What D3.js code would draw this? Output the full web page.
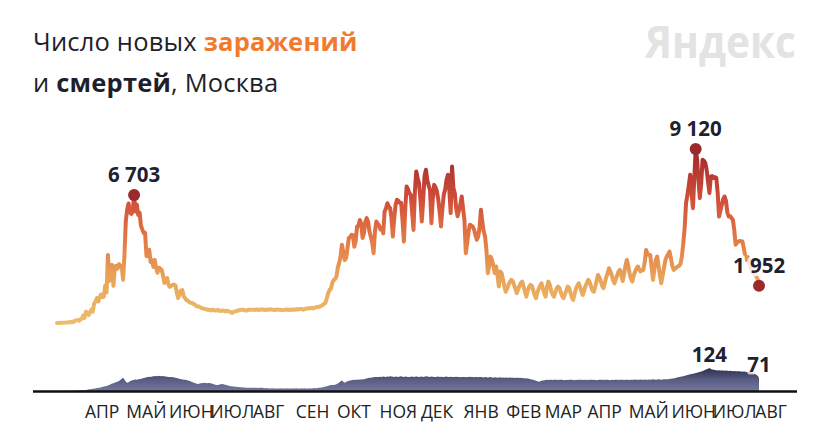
<!DOCTYPE html>
<html><head><meta charset="utf-8">
<script src="https://cdn.jsdelivr.net/npm/d3@7"></script>
<style>
html,body{margin:0;padding:0;background:#fff;}
svg{display:block;font-family:"Open Sans",sans-serif;}
</style></head>
<body>
<svg id="chart" width="828" height="440"></svg>
<script>
// ---------- data ----------
const startDate = new Date(2020, 2, 12); // first day of the series
const endDate = new Date(2021, 7, 4);

// daily new cases, Moscow (from 12 Mar 2020)
const cases = [
  // Mar 2020 (12–31)
  5,7,6,10,12,10,20,20,33,54,34,71,54,120,136,157,114,197,212,387,
  // Apr
  267,595,536,416,547,697,591,1030,1124,1306,1124,1355,1489,1355,1370,1959,1600,3570,2200,2800,3050,1950,2950,3000,2850,3080,2950,3000,2260,3560,
  // May
  5358,5948,6263,5795,5714,5858,6703,5846,6200,5667,5780,5100,4890,4712,4730,3505,3500,3840,3200,3300,2940,3300,2900,2630,2900,2850,2790,2500,2100,2200,2360,
  // Jun
  2000,1890,1950,2000,2010,1980,1600,1310,1500,1700,1730,1400,1310,1200,1180,1100,1060,1050,1000,980,900,870,860,820,780,760,740,730,700,690,
  // Jul
  680,660,700,673,660,650,690,640,620,650,660,610,630,640,600,580,530,570,600,620,640,660,680,690,700,670,650,660,690,700,690,
  // Aug
  690,700,680,710,690,680,700,720,690,680,700,690,710,720,700,690,680,700,710,690,700,680,670,690,700,710,690,680,700,710,700,
  // Sep
  700,720,710,730,740,720,700,730,760,750,780,770,800,760,790,820,850,830,870,900,940,1000,1050,1300,1560,1730,1800,2100,2260,2300,
  // Oct
  2430,2900,3150,3500,4100,3700,3300,3400,3900,4450,4500,4620,4600,4000,4300,5060,5100,5400,5200,4460,4700,5300,5500,5300,4800,4500,4200,3660,4800,5320,5200,
  // Nov
  5100,4900,4970,4700,5840,6000,6280,6100,6020,5500,4530,5500,6200,6460,6400,6300,6300,5400,4270,6000,7160,7000,6800,6720,5800,4880,6900,7940,7600,7330,
  // Dec
  6500,5320,6400,7680,8030,7500,7200,6980,5230,6500,7240,7100,6900,6460,5800,5060,6000,6720,7000,7500,7770,7000,5760,8203,7070,6800,6020,5600,5900,6200,6630,
  // Jan 2021
  6000,5400,3660,4200,4800,5150,5100,5060,4900,4600,4360,4530,5000,5930,5300,4800,4530,3800,2610,3000,3480,3300,3000,2620,2960,2500,1910,2700,2610,2300,1910,
  // Feb
  1640,1800,2000,2150,2260,2200,2000,1800,1560,1750,1950,2100,2170,1900,1640,1380,1700,1900,2000,1950,1700,1470,1300,1600,1800,1950,2080,1800,
  // Mar
  1560,1380,1900,2170,2000,1700,1500,1380,1600,1800,1910,1850,1600,1400,1300,1500,1700,1910,1850,1600,1350,1210,1500,1800,1950,2080,1900,1650,1470,1700,1950,
  // Apr
  2100,2260,2150,1900,1700,1640,1900,2200,2520,2400,2200,1950,1820,2100,2400,2600,2870,2700,2500,2250,2080,2300,2500,2700,2780,2500,2200,2600,3000,3300,
  // May
  3000,2600,2300,2170,2500,2700,2850,2960,2800,2700,2780,2780,3200,3830,3600,3570,3570,2900,2260,2800,3300,3480,3000,2500,2080,2500,2900,3300,3480,3600,3740,
  // Jun
  3400,3000,2780,2850,2900,2960,3000,3100,3500,4180,5000,6280,6700,7200,7770,6800,6020,7600,9120,8600,7500,6550,7300,8560,8500,8380,8000,7400,6810,7680,
  // Jul
  7700,7600,7650,7600,6800,5580,5900,6200,6500,6630,6400,5800,5580,5600,5500,5410,4900,4100,4200,4270,4300,4280,4270,3900,3500,3300,3450,3200,2900,2700,2600,
  // Aug
  2550,2450,2300,1952
];

// daily deaths, Moscow (same days)
const deaths = [
  0,0,0,0,0,1,1,0,1,1,1,1,2,2,3,3,4,4,6,6,
  5,6,7,9,10,11,12,13,14,16,17,18,20,22,24,25,27,30,33,36,40,42,45,48,50,54,59,66,72,62,
  50,45,47,52,56,58,60,62,61,63,64,66,68,70,72,74,76,77,75,78,80,79,81,80,82,80,81,79,80,78,77,
  76,75,74,75,73,72,70,68,66,64,63,61,60,59,57,55,52,49,46,43,40,38,39,41,43,42,44,43,42,43,
  43,41,39,36,34,32,33,35,37,38,36,34,32,30,28,26,25,24,23,23,22,21,20,20,19,19,18,18,18,17,18,
  18,17,18,17,16,17,18,17,16,15,16,15,14,15,14,15,14,13,14,13,14,15,14,13,14,15,14,13,14,14,15,
  14,15,14,13,14,15,14,15,14,13,14,15,14,15,16,15,16,17,18,19,20,22,24,26,28,30,32,33,32,34,
  36,40,46,52,56,50,45,48,52,55,57,58,60,59,61,60,62,61,63,62,64,66,68,70,71,72,73,74,75,76,75,
  76,77,76,78,77,76,78,77,79,78,77,76,78,77,76,78,79,77,76,78,77,76,75,77,78,76,77,78,77,76,
  77,78,76,77,79,78,77,76,78,77,76,75,77,78,76,77,75,76,77,78,76,75,77,76,75,76,77,75,76,74,75,
  76,75,74,76,75,77,76,75,74,76,75,74,76,75,74,73,75,74,73,74,75,73,72,74,73,72,73,74,72,73,72,
  73,72,71,73,72,71,72,70,71,72,70,71,69,70,68,69,67,66,64,62,60,58,55,52,50,52,55,57,
  58,59,60,59,60,61,59,60,61,60,59,60,61,60,59,58,60,59,60,61,60,59,58,60,59,60,61,60,59,60,59,
  60,59,60,61,60,59,60,58,59,60,61,60,59,60,61,60,59,58,60,59,60,61,60,59,60,61,60,59,60,61,
  60,59,60,61,60,62,61,60,61,62,61,60,62,61,60,62,61,62,63,62,61,62,63,62,61,62,63,64,63,64,65,
  66,67,68,70,72,74,75,77,78,80,82,84,86,88,90,92,93,95,97,99,101,103,105,108,111,114,117,120,124,118,
  116,114,113,112,111,112,110,111,110,109,110,109,108,109,108,107,108,107,106,107,106,105,104,105,104,103,102,101,100,98,96,
  92,88,82,71
];

const monthLabels = ["АПР","МАЙ","ИЮН","ИЮЛ","АВГ","СЕН","ОКТ","НОЯ","ДЕК","ЯНВ","ФЕВ","МАР","АПР","МАЙ","ИЮН","ИЮЛ","АВГ"];
const firstTickMonth = new Date(2020, 3, 1);

// annotated days (index into series)
const caseMarks = [56, 464, 510];
const deathMarks = [474, 510];

// ---------- drawing ----------
const svg = d3.select("#chart");
const day = i => d3.timeDay.offset(startDate, i);

const x = d3.scaleTime().domain([startDate, endDate]).range([57, 759]);
const yC = d3.scaleLinear().domain([0, 9120]).range([323, 149]);
const yD = d3.scaleLinear().domain([0, 124]).range([391, 368]);

const defs = svg.append("defs");
const lg = defs.append("linearGradient").attr("id", "caseGrad")
  .attr("gradientUnits", "userSpaceOnUse")
  .attr("x1", 0).attr("x2", 0).attr("y1", yC(0)).attr("y2", yC(9120));
[[0, "#ecbd6c"], [0.25, "#e9a55a"], [0.45, "#e47f47"], [0.7, "#d2503a"], [1, "#a0282b"]]
  .forEach(([o, c]) => lg.append("stop").attr("offset", o).attr("stop-color", c));

const dg = defs.append("linearGradient").attr("id", "deathGrad")
  .attr("gradientUnits", "userSpaceOnUse")
  .attr("x1", 0).attr("x2", 0).attr("y1", yD(0)).attr("y2", yD(124));
[[0, "#73779c"], [0.5, "#585c82"], [1, "#2c2e4c"]]
  .forEach(([o, c]) => dg.append("stop").attr("offset", o).attr("stop-color", c));

// title
const t1 = svg.append("text").attr("x", 33).attr("y", 51)
  .attr("font-size", 25.5).attr("letter-spacing", 0.2).attr("fill", "#1f1f2b");
t1.append("tspan").text("Число новых ");
t1.append("tspan").attr("font-weight", 700).attr("fill", "#f07a2d").text("заражений");
const t2 = svg.append("text").attr("x", 33).attr("y", 92)
  .attr("font-size", 25.5).attr("letter-spacing", 0.2).attr("fill", "#1f1f2b");
t2.append("tspan").text("и ");
t2.append("tspan").attr("font-weight", 700).text("смертей");
t2.append("tspan").text(", Москва");

// logo
svg.append("text").attr("x", 645).attr("y", 58)
  .attr("font-size", 45).attr("font-weight", 700).attr("fill", "#e3e3e3")
  .attr("textLength", 151).attr("lengthAdjust", "spacingAndGlyphs")
  .text("Яндекс");

// deaths area
const area = d3.area().x((d, i) => x(day(i))).y0(yD(0)).y1(d => yD(d));
svg.append("path").datum(deaths).attr("d", area).attr("fill", "url(#deathGrad)");

// axis
svg.append("line").attr("x1", 33).attr("x2", 797).attr("y1", 391.5).attr("y2", 391.5)
  .attr("stroke", "#111").attr("stroke-width", 2.5);
const ticks = monthLabels.map((_, i) => d3.timeMonth.offset(firstTickMonth, i));
const ax = d3.axisBottom(x)
  .tickValues(ticks).tickSize(0)
  .tickFormat((d, i) => monthLabels[i]);
const axG = svg.append("g").attr("transform", "translate(0,392)").call(ax);
axG.select(".domain").remove();
axG.selectAll("text").attr("text-anchor", "start").attr("dy", 0).attr("y", 26)
  .attr("font-size", 17.5).attr("font-family", "Open Sans").attr("fill", "#222");

// cases line
const line = d3.line().x((d, i) => x(day(i))).y(d => yC(d)).curve(d3.curveLinear);
svg.append("path").datum(cases).attr("d", line).attr("fill", "none")
  .attr("stroke", "url(#caseGrad)").attr("stroke-width", 4)
  .attr("stroke-linejoin", "round").attr("stroke-linecap", "round");

const fmt = d3.formatLocale({decimal: ",", thousands: "\u00a0", grouping: [3], currency: ["", ""]}).format(",");

// dots + labels for cases
svg.selectAll("circle.mark").data(caseMarks).join("circle")
  .attr("class", "mark").attr("cx", i => x(day(i))).attr("cy", i => yC(cases[i]))
  .attr("r", 6).attr("fill", "#9c2a2b");

const lab = svg.append("g").attr("font-size", 20.5).attr("font-weight", 700)
  .attr("fill", "#1f2130").attr("text-anchor", "middle");
caseMarks.forEach(i => {
  lab.append("text").attr("x", x(day(i))).attr("y", yC(cases[i]) - 13)
    .attr("stroke", "#fff").attr("stroke-width", 7).attr("stroke-opacity", 0.8)
    .attr("paint-order", "stroke").attr("stroke-linejoin", "round")
    .text(fmt(cases[i]));
});
deathMarks.forEach(i => {
  lab.append("text").attr("x", x(day(i))).attr("y", yD(deaths[i]) - 6)
    .attr("stroke", "#fff").attr("stroke-width", 5).attr("stroke-opacity", 0.7)
    .attr("paint-order", "stroke").attr("stroke-linejoin", "round")
    .text(fmt(deaths[i]));
});
</script>
</body></html>
